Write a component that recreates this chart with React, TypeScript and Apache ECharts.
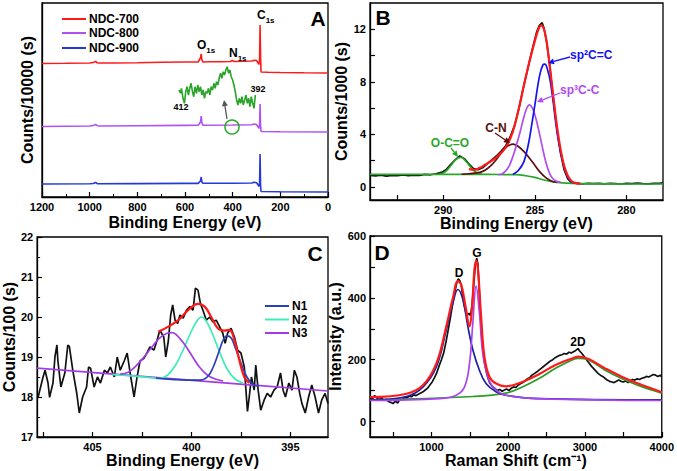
import React, { useEffect, useRef } from 'react';
import * as echarts from 'echarts';

const F = '"Liberation Sans", Arial, Helvetica, sans-serif';

// ---------------- Panel A : XPS survey (binding energy, offset intensity)
const aRed = [[1200,133.5],[1100,133.7],[1000,134],[985,134.5],[975,135.5],[968,134.2],[960,134],[900,134],[800,134.3],[700,134.7],[600,135],[545,135],[535,139],[532,143],[529,137],[525,135],[500,135.2],[450,135.3],[410,135.5],[402,136.5],[395,135.5],[350,135.7],[320,136],[310,136.8],[300,136.5],[293,134],[290,132.5],[287,137],[285,172],[283,142],[281,125],[250,124.8],[200,124.5],[100,124.2],[0,124]];
const aPurple = [[1200,70.5],[1100,70.8],[1000,71],[985,71.5],[975,72.5],[968,71.3],[960,71],[800,71.3],[600,71.6],[545,71.7],[535,75],[532,81],[529,74],[525,71.8],[400,72],[320,72.3],[310,73],[300,72.5],[293,70],[290,68.5],[287,72],[285,93],[283,72],[281,65.5],[200,65.3],[0,65]];
const aBlue = [[1200,13],[1000,13.2],[985,13.5],[975,14.5],[968,13.3],[800,13.4],[600,13.6],[545,13.6],[535,16],[532,20],[529,15],[525,13.7],[400,13.8],[320,14],[310,14.8],[300,14.3],[293,12],[290,10.5],[287,14],[285,43],[283,12],[281,5.5],[200,5.3],[0,5]];
// N1s inset (412 -> 392 eV)
const aInset = [[412,21],[411.63,17.7],[411.37,22.7],[410.96,12.7],[410.59,7.7],[410.25,19.3],[409.91,24.3],[409.55,16],[409.21,22.7],[408.87,27.7],[408.5,19.3],[408.17,14.3],[407.83,24.3],[407.46,17.7],[407.12,26],[406.78,19.3],[406.42,24.3],[406.08,16],[405.74,21],[405.38,12.7],[405.04,19.3],[404.7,17.7],[404.33,22.7],[403.99,16],[403.65,24.3],[403.29,21],[402.95,27.7],[402.61,22.7],[402.25,29.3],[401.91,26],[401.57,32.7],[401.2,37.7],[400.86,32.7],[400.52,39.3],[400.16,36],[399.82,41],[399.48,44.3],[399.12,37.7],[398.78,41],[398.44,34.3],[398.07,31],[397.73,26],[397.39,19.3],[397.03,11],[396.69,6],[396.35,12.7],[395.99,7.7],[395.65,14.3],[395.31,6],[394.94,11],[394.6,16],[394.26,7.7],[393.9,12.7],[393.56,4.3],[393.22,14.3],[392.86,7.7],[392.52,2.7],[392.18,16]];
const aXMin = 0, aXMax = 1200, aXStep = 200;

// ---------------- Panel B : C1s (binding energy eV, counts/1000)
const bExp = [[294,0.88],[293.7,0.84],[293.4,0.9],[293.1,0.82],[292.8,0.88],[292.5,0.86],[292.2,0.92],[291.9,0.86],[291.6,0.9],[291.3,0.88],[291,0.95],[290.7,0.92],[290.4,1.0],[290.1,1.1],[289.85,1.3],[289.6,1.7],[289.35,2.05],[289.1,2.35],[288.85,2.15],[288.6,1.75],[288.35,1.4],[288.1,1.3],[287.85,1.45],[287.6,1.75],[287.35,2.05],[287.1,2.35],[286.85,2.7],[286.6,3.1],[286.35,3.8],[286.1,4.7],[285.85,6.1],[285.6,7.7],[285.35,9.2],[285.1,10.7],[284.9,11.8],[284.75,12.3],[284.6,12.5],[284.5,12.1],[284.35,11.0],[284.2,9.4],[284,6.8],[283.8,4.5],[283.6,2.6],[283.4,1.3],[283.2,0.6],[283,0.33],[282.7,0.26],[282.4,0.22],[282.1,0.27],[281.8,0.24],[281.5,0.26],[281.2,0.23],[280.9,0.27],[280.6,0.25],[280.3,0.22],[280,0.26],[279.7,0.24],[279.4,0.28],[279.1,0.25],[278.8,0.23],[278.5,0.27],[278.2,0.26],[278,0.3]];
const bEnvelope = [[288.6,1.35],[288.3,1.3],[288,1.45],[287.7,1.7],[287.4,1.95],[287.1,2.25],[286.8,2.65],[286.5,3.2],[286.2,4.2],[285.9,5.8],[285.6,7.7],[285.3,9.5],[285,11.1],[284.8,12.0],[284.65,12.3],[284.5,12.0],[284.35,11.0],[284.2,9.4],[284,7.0],[283.8,4.7],[283.6,2.9],[283.4,1.6],[283.2,0.85],[283,0.45],[282.8,0.3],[282.5,0.25]];
const bSp2 = [[286.2,0.95],[285.9,1.25],[285.6,1.9],[285.33,3.4],[285.15,4.9],[285,6.2],[284.85,7.6],[284.7,8.7],[284.55,9.3],[284.45,9.35],[284.3,8.9],[284.15,8.0],[284,6.5],[283.85,4.8],[283.7,3.4],[283.5,2.1],[283.3,1.1],[283.1,0.5],[282.9,0.32],[282.6,0.26]];
const bSp3 = [[287,0.93],[286.8,0.98],[286.6,1.2],[286.4,1.6],[286.2,2.3],[286,3.2],[285.8,4.2],[285.6,5.3],[285.45,5.95],[285.3,6.25],[285.15,6.05],[285,5.5],[284.8,4.4],[284.6,3.1],[284.4,1.9],[284.2,1.05],[284,0.6],[283.8,0.42],[283.6,0.36]];
const bCN = [[289,0.96],[288.6,1.0],[288.3,1.05],[288,1.1],[287.7,1.28],[287.4,1.61],[287.1,2.09],[286.8,2.63],[286.5,3.08],[286.2,3.25],[285.9,3.08],[285.6,2.7],[285.3,2.2],[285,1.65],[284.7,1.1],[284.4,0.7],[284.1,0.45],[283.8,0.34]];
const bOCO = [[290.2,0.97],[290,1.05],[289.8,1.25],[289.6,1.6],[289.4,1.95],[289.2,2.2],[289.05,2.24],[288.9,2.15],[288.7,1.85],[288.5,1.5],[288.3,1.2],[288.1,1.05],[287.9,0.97]];
const bBackground = [[294,0.95],[290,0.95],[288,0.95],[287,0.94],[286,0.93],[285.7,0.9],[285,0.72],[284.5,0.52],[284,0.38],[283.5,0.3],[283,0.26],[282,0.24],[280,0.22],[278,0.22]];
const bXLabels = [280, 285, 290];
const bXTicks = [280, 282.5, 285, 287.5, 290, 292.5];
const bYLabels = [0, 4, 8, 12];
const bYTicks = [0, 2, 4, 6, 8, 10, 12];

// ---------------- Panel C : N1s (binding energy eV, counts/100)
const cExp = [[407.75,18.0],[407.5,18.5],[407.4,18.67],[407.25,18.35],[407.17,17.99],[407,18.35],[406.9,19.0],[406.8,19.3],[406.75,18.9],[406.6,18.25],[406.4,18.6],[406.25,19.3],[406.17,19.26],[406,18.67],[405.8,18.1],[405.67,17.6],[405.5,18.0],[405.3,18.25],[405.2,18.75],[405.1,18.72],[404.92,18.25],[404.75,18.5],[404.6,18.35],[404.4,18.67],[404.25,18.6],[404.1,18.75],[403.9,18.5],[403.75,19.0],[403.6,18.67],[403.4,18.9],[403.25,19.1],[403.1,18.6],[402.9,18.0],[402.75,18.5],[402.6,18.9],[402.4,18.97],[402.25,19.1],[402.1,19.25],[401.9,19.17],[401.75,19.4],[401.6,19.67],[401.4,19.5],[401.3,19.0],[401.17,19.4],[401.05,20.05],[400.95,20.3],[400.83,19.92],[400.7,19.84],[400.58,20.05],[400.42,19.97],[400.25,20.17],[400.08,20.26],[399.92,20.17],[399.8,20.72],[399.67,20.67],[399.55,20.34],[399.42,20.17],[399.25,19.92],[399.08,20.0],[398.92,19.88],[398.75,19.92],[398.58,19.76],[398.42,19.6],[398.3,19.34],[398.17,19.6],[398,19.72],[397.83,19.5],[397.67,19.17],[397.5,19.1],[397.33,18.75],[397.17,17.64],[397.08,18.0],[396.97,18.5],[396.83,18.17],[396.75,18.8],[396.63,18.17],[396.5,17.67],[396.33,17.92],[396.17,18.09],[396,18.0],[395.83,18.17],[395.67,18.25],[395.5,18.6],[395.37,18.17],[395.25,18.0],[395.08,18.35],[394.92,18.17],[394.8,18.67],[394.67,18.5],[394.53,18.09],[394.42,17.84],[394.25,17.6],[394.08,18.0],[393.92,18.3],[393.75,18.0],[393.58,17.6],[393.42,17.92],[393.25,18.09],[393.1,17.84]];
const cEnvelope = [[401.67,19.63],[401.17,19.76],[400.67,19.92],[400.17,20.17],[399.67,20.33],[399.33,20.26],[399,20.0],[398.67,19.72],[398.33,19.66],[398.08,19.68],[397.83,19.42],[397.58,18.92],[397.33,18.5],[397.08,18.35]];
const cN1 = [[401.8,18.47],[401,18.44],[400.2,18.42],[399.6,18.42],[399.2,18.5],[398.9,18.75],[398.6,19.15],[398.4,19.42],[398.2,19.53],[398,19.48],[397.8,19.25],[397.5,18.85],[397.2,18.5],[396.9,18.32],[396.6,18.27]];
const cN2 = [[404,18.56],[403,18.53],[402,18.48],[401.6,18.47],[401.2,18.55],[400.8,18.8],[400.4,19.2],[400,19.65],[399.7,19.92],[399.5,20.0],[399.3,19.93],[399,19.65],[398.6,19.15],[398.2,18.7],[397.8,18.45],[397.4,18.35]];
const cN3 = [[403.6,18.57],[403.2,18.62],[402.8,18.78],[402.4,19.0],[402,19.25],[401.6,19.48],[401.2,19.6],[401,19.61],[400.8,19.57],[400.4,19.35],[400,19.05],[399.6,18.75],[399.2,18.55],[398.8,18.45],[398.4,18.4]];
const cBackground = [[407.8,18.72],[393.1,18.15]];
const cXLabels = [395, 400, 405];
const cXTicks = [395, 397.5, 400, 402.5, 405, 407.5];

// ---------------- Panel D : Raman (shift cm-1, intensity a.u.)
const dExp = [[200,80],[230,72],[260,84],[290,76],[320,70],[350,78],[380,68],[410,72],[440,65],[470,62],[500,58],[530,66],[560,60],[590,72],[620,70],[650,78],[680,76],[710,82],[740,80],[770,86],[800,84],[830,88],[860,92],[890,96],[920,102],[950,108],[980,118],[1010,128],[1040,142],[1070,158],[1100,180],[1130,200],[1160,222],[1190,258],[1220,298],[1250,340],[1280,385],[1305,420],[1330,448],[1350,462],[1370,455],[1390,438],[1410,400],[1430,372],[1450,352],[1470,345],[1490,350],[1510,342],[1530,380],[1550,440],[1570,500],[1590,528],[1605,510],[1620,440],[1640,340],[1660,262],[1680,210],[1700,180],[1720,155],[1740,138],[1760,125],[1780,118],[1800,112],[1830,106],[1860,100],[1890,104],[1920,98],[1950,102],[1980,105],[2010,100],[2040,108],[2070,112],[2100,110],[2130,118],[2160,122],[2190,126],[2220,132],[2250,138],[2280,142],[2310,150],[2340,155],[2370,160],[2400,166],[2430,172],[2460,178],[2490,184],[2520,190],[2550,196],[2580,200],[2610,206],[2640,210],[2670,214],[2700,216],[2730,220],[2760,218],[2790,224],[2820,222],[2850,226],[2880,230],[2910,236],[2930,228],[2960,220],[2990,210],[3020,200],[3050,190],[3080,180],[3110,172],[3140,164],[3170,156],[3200,150],[3230,146],[3260,140],[3290,134],[3320,130],[3350,128],[3380,126],[3410,130],[3440,134],[3470,130],[3500,128],[3530,132],[3560,126],[3590,132],[3620,136],[3650,134],[3680,138],[3710,136],[3740,140],[3770,142],[3800,146],[3830,144],[3860,148],[3890,152],[3920,150],[3950,146],[3980,150],[4000,144]];
const dEnvelope = [[200,79],[677,90],[892,118],[1065,188],[1194,308],[1280,400],[1345,454],[1388,443],[1444,373],[1496,308],[1530,373],[1560,492],[1582,520],[1604,498],[1647,340],[1690,210],[1755,145],[1841,123],[1970,114],[2185,128],[2401,153],[2616,183],[2832,204],[2918,210],[3047,202],[3263,172],[3478,145],[3694,123],[4000,95]];
const dBandD = [[200,70],[677,81],[892,112],[1065,177],[1194,297],[1280,384],[1345,427],[1409,395],[1474,308],[1539,232],[1625,166],[1711,123],[1841,96],[1970,85],[2401,74],[4000,70]];
const dBandG = [[200,68],[1108,74],[1323,85],[1431,112],[1496,188],[1539,318],[1582,438],[1625,351],[1668,221],[1733,145],[1819,107],[1970,85],[2401,74],[4000,68]];
const dBand2D = [[200,70],[1539,81],[1970,92],[2185,112],[2401,139],[2616,172],[2832,199],[2918,204],[3047,199],[3263,166],[3478,139],[3694,117],[4000,92]];
const dXLabels = [1000, 2000, 3000, 4000];
const dXTicks = [500, 1000, 1500, 2000, 2500, 3000, 3500, 4000];
const dYLabels = [0, 200, 400, 600];
const dYTicks = [0, 100, 200, 300, 400, 500, 600];

const plain = (v: number) => String(v);
const LABEL = { color: '#000', fontSize: 11, fontWeight: 'bold', fontFamily: F, margin: 4, formatter: plain };
const NAME = { color: '#000', fontSize: 16, fontWeight: 'bold', fontFamily: F };
const LINE = { show: true, onZero: false, lineStyle: { color: '#000', width: 1.3 } };
const TICK = { show: true, inside: true, length: 5, lineStyle: { color: '#000', width: 1.2 } };

function axis(o: any) {
  return {
    type: 'value',
    nameLocation: 'middle',
    splitLine: { show: false },
    axisLine: LINE,
    nameTextStyle: NAME,
    ...o,
    axisTick: { ...TICK, ...(o.axisTick || {}) },
    axisLabel: { ...LABEL, ...(o.axisLabel || {}) },
  };
}

function arrow(x1: number, y1: number, x2: number, y2: number, color: string) {
  const a = Math.atan2(y2 - y1, x2 - x1);
  const L = 6, W = 3;
  const bx = x2 - L * Math.cos(a), by = y2 - L * Math.sin(a);
  const px = -Math.sin(a) * W, py = Math.cos(a) * W;
  return [
    { type: 'line', z: 100, shape: { x1, y1, x2: bx, y2: by }, style: { stroke: color, lineWidth: 1.3 } },
    { type: 'polygon', z: 100, shape: { points: [[x2, y2], [bx + px, by + py], [bx - px, by - py]] }, style: { fill: color } },
  ];
}

function txt(x: number, y: number, text: string, size: number, color = '#000', align = 'center') {
  return {
    type: 'text', z: 100, x, y,
    style: { text, fill: color, fontSize: size, fontWeight: 'bold', fontFamily: F, align, textAlign: align, verticalAlign: 'middle', textVerticalAlign: 'middle' },
  };
}

function subTxt(x: number, y: number, main: string, sub: string) {
  return {
    type: 'text', z: 100, x, y,
    style: {
      text: `{m|${main}}{s|${sub}}`,
      align: 'left', textAlign: 'left', verticalAlign: 'middle', textVerticalAlign: 'middle',
      rich: {
        m: { fontSize: 12, fontWeight: 'bold', fontFamily: F, lineHeight: 18, fill: '#000', color: '#000' },
        s: { fontSize: 8, fontWeight: 'bold', fontFamily: F, lineHeight: 9, verticalAlign: 'bottom', fill: '#000', color: '#000' },
      },
    },
  };
}

function legendItem(x: number, y: number, color: string, label: string) {
  return [
    { type: 'line', z: 100, shape: { x1: x, y1: y, x2: x + 24, y2: y }, style: { stroke: color, lineWidth: 2 } },
    txt(x + 27, y, label, 12, '#000', 'left'),
  ];
}

const RED = '#ff1a1a';

function line(name: string, data: any, idx: number, color: string, width = 1.7, smooth: any = false) {
  return {
    type: 'line', name, data, xAxisIndex: idx, yAxisIndex: idx, showSymbol: false, symbol: 'none',
    smooth, lineStyle: { color, width }, itemStyle: { color }, silent: true,
  };
}

export default function App() {
  const ref = useRef<HTMLDivElement>(null);
  useEffect(() => {
    if (!ref.current) return;
    const chart = echarts.init(ref.current, null, { renderer: 'svg' });
    const border = { show: true, borderColor: '#000', borderWidth: 1.3, backgroundColor: 'transparent' };
    const option: any = {
      animation: false,
      backgroundColor: '#fff',
      grid: [
        { left: 42, top: 3, width: 286, height: 194, ...border },
        { left: 179, top: 65, width: 77, height: 46, show: false },
        { left: 370, top: 3, width: 293, height: 197, ...border },
        { left: 34, top: 237, width: 294, height: 200, ...border },
        { left: 370, top: 236, width: 293, height: 201, ...border },
      ],
      xAxis: [
        axis({ gridIndex: 0, min: aXMin, max: aXMax, interval: aXStep, inverse: true, name: 'Binding Energy (eV)', nameGap: 17,
          minorTick: { show: true, splitNumber: 2, length: 3, lineStyle: { color: '#000', width: 1 } } }),
        { type: 'value', gridIndex: 1, min: 392, max: 412, inverse: true, show: false },
        axis({ gridIndex: 2, min: 278, max: 294, inverse: true, name: 'Binding Energy (eV)', nameGap: 15,
          axisLabel: { customValues: bXLabels }, axisTick: { customValues: bXTicks } }),
        axis({ gridIndex: 3, min: 393.1, max: 407.8, inverse: true, name: 'Binding Energy (eV)', nameGap: 13,
          axisLabel: { customValues: cXLabels }, axisTick: { customValues: cXTicks } }),
        axis({ gridIndex: 4, min: 200, max: 4000, name: 'Raman Shift (cm⁻¹)', nameGap: 13,
          axisLabel: { customValues: dXLabels }, axisTick: { customValues: dXTicks } }),
      ],
      yAxis: [
        axis({ gridIndex: 0, min: 0, max: 194, name: 'Counts/10000 (s)', nameGap: 7, axisLabel: { show: false }, axisTick: { show: false } }),
        { type: 'value', gridIndex: 1, min: 0, max: 46, show: false },
        axis({ gridIndex: 2, min: -1, max: 14, name: 'Counts/1000 (s)', nameGap: 17,
          axisLabel: { customValues: bYLabels }, axisTick: { customValues: bYTicks } }),
        axis({ gridIndex: 3, min: 17, max: 22, interval: 1, name: 'Counts/100 (s)', nameGap: 16,
          minorTick: { show: true, splitNumber: 2, length: 3, lineStyle: { color: '#000', width: 1 } } }),
        axis({ gridIndex: 4, min: -50, max: 600, name: 'Intensity (a.u.)', nameGap: 17,
          axisLabel: { customValues: dYLabels }, axisTick: { customValues: dYTicks } }),
      ],
      series: [
        line('NDC-700', aRed, 0, RED, 1.6),
        line('NDC-800', aPurple, 0, '#b052f2', 1.6),
        line('NDC-900', aBlue, 0, '#2438dc', 1.6),
        line('N1s inset', aInset, 1, '#28a428', 1.6),

        line('Experimental', bExp, 2, '#111'),
        line('Background', bBackground, 2, '#2aa82a', 1.7, 0.3),
        line('O-C=O', bOCO, 2, '#2aa82a', 1.7, 0.4),
        line('C-N', bCN, 2, '#5a1010', 1.7, 0.4),
        line('sp3 C-C', bSp3, 2, '#b04cf0', 1.7, 0.4),
        line('sp2 C=C', bSp2, 2, '#1414f0', 1.7, 0.4),
        line('Fit', bEnvelope, 2, RED, 2.2, 0.4),

        line('Experimental', cExp, 3, '#111'),
        line('N3', cBackground, 3, '#a43ce6'),
        line('N2', cN2, 3, '#3eecb8', 1.7, 0.4),
        line('N3', cN3, 3, '#a43ce6', 1.7, 0.4),
        line('N1', cN1, 3, '#2a40b8', 1.7, 0.4),
        line('Fit', cEnvelope, 3, RED, 2.2, 0.4),

        line('Experimental', dExp, 4, '#111'),
        line('2D band', dBand2D, 4, '#2a9a2a', 1.7, 0.4),
        line('D band', dBandD, 4, '#1a22a0', 1.7, 0.4),
        line('G band', dBandG, 4, '#a845f0', 1.7, 0.4),
        line('Fit', dEnvelope, 4, RED, 2.2, 0.4),
      ],
      graphic: [
        // Panel A
        ...legendItem(62, 19, RED, 'NDC-700'),
        ...legendItem(62, 33, '#b052f2', 'NDC-800'),
        ...legendItem(62, 48, '#2438dc', 'NDC-900'),
        subTxt(197, 45, 'O', '1s'),
        subTxt(229, 53, 'N', '1s'),
        subTxt(257, 15, 'C', '1s'),
        txt(318, 18, 'A', 21),
        txt(181, 107, '412', 9),
        txt(258, 89, '392', 9),
        { type: 'circle', z: 100, shape: { cx: 232, cy: 127, r: 7 }, style: { fill: 'none', stroke: '#22aa22', lineWidth: 1.5 } },
        ...arrow(227, 119, 224, 100, '#555'),
        // Panel B
        txt(383, 17, 'B', 21),
        txt(570, 55, 'sp²C=C', 12, '#1414f0', 'left'),
        ...arrow(570, 57, 548, 63, '#1414f0'),
        txt(560, 90, 'sp³C-C', 12, '#b04cf0', 'left'),
        ...arrow(560, 93, 537, 102, '#b04cf0'),
        txt(496, 128, 'C-N', 12, '#5a1010'),
        ...arrow(495, 133, 510, 143, '#5a1010'),
        txt(450, 143, 'O-C=O', 12, '#2aa82a'),
        ...arrow(451, 148, 458, 157, '#2aa82a'),
        // Panel C
        txt(315, 253, 'C', 21),
        ...legendItem(265, 306, '#2a40b8', 'N1'),
        ...legendItem(265, 319.5, '#3eecb8', 'N2'),
        ...legendItem(265, 333, '#a43ce6', 'N3'),
        // Panel D
        txt(382, 252, 'D', 21),
        txt(459, 273, 'D', 12),
        txt(477, 253, 'G', 12),
        txt(578, 342, '2D', 12),
      ],
    };
    chart.setOption(option);
    return () => chart.dispose();
  }, []);
  return (
    <div
      ref={ref}
      style={{ position: 'fixed', left: 0, top: 0, width: 677, height: 471, background: '#fff' }}
    />
  );
}
